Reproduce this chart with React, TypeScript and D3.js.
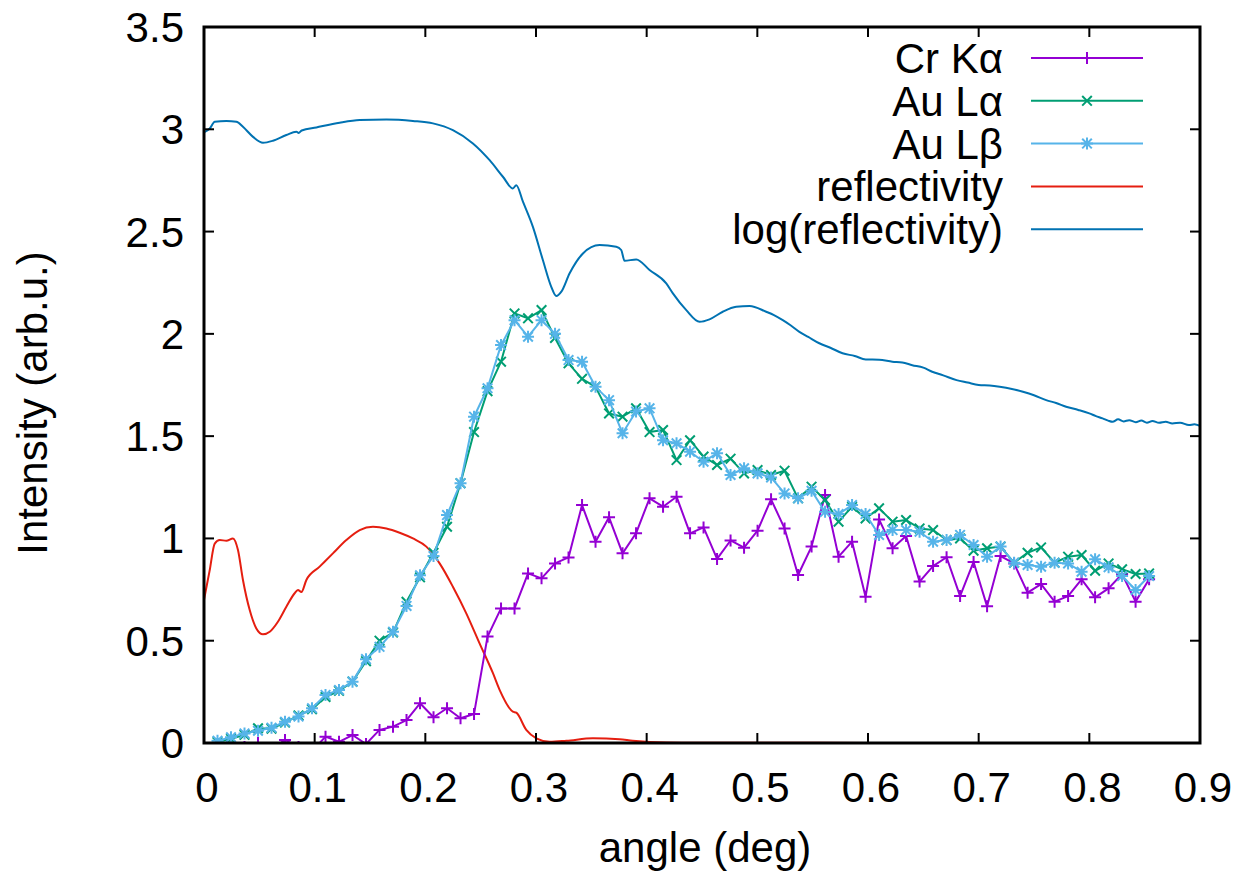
import React from "react";
import * as d3 from "d3";

// ---- data ----
const angles = [0.0122, 0.0244, 0.0366, 0.0488, 0.061, 0.0732, 0.0854, 0.0976, 0.1098, 0.122, 0.1342, 0.1464, 0.1586, 0.1708, 0.183, 0.1952, 0.2074, 0.2196, 0.2318, 0.244, 0.2562, 0.2684, 0.2806, 0.2928, 0.305, 0.3172, 0.3294, 0.3416, 0.3538, 0.366, 0.3782, 0.3904, 0.4026, 0.4148, 0.427, 0.4392, 0.4514, 0.4636, 0.4758, 0.488, 0.5002, 0.5124, 0.5246, 0.5368, 0.549, 0.5612, 0.5734, 0.5856, 0.5978, 0.61, 0.6222, 0.6344, 0.6466, 0.6588, 0.671, 0.6832, 0.6954, 0.7076, 0.7198, 0.732, 0.7442, 0.7564, 0.7686, 0.7808, 0.793, 0.8052, 0.8174, 0.8296, 0.8418, 0.854];

const crKa = [-0.03, -0.01, -0.02, 0.0, -0.03, 0.015, -0.02, -0.04, 0.031, 0.006, 0.039, -0.005, 0.064, 0.08, 0.112, 0.194, 0.126, 0.17, 0.121, 0.142, 0.52, 0.658, 0.658, 0.829, 0.805, 0.878, 0.907, 1.163, 0.984, 1.103, 0.927, 1.025, 1.196, 1.155, 1.204, 1.025, 1.054, 0.9, 0.99, 0.955, 1.038, 1.191, 1.049, 0.821, 0.96, 1.212, 0.911, 0.984, 0.715, 1.093, 0.952, 1.012, 0.789, 0.865, 0.908, 0.718, 0.885, 0.668, 0.914, 0.878, 0.735, 0.777, 0.691, 0.718, 0.8, 0.712, 0.756, 0.826, 0.691, 0.8];

const auLa = [0.005, 0.02, 0.04, 0.072, 0.07, 0.1, 0.135, 0.165, 0.225, 0.255, 0.3, 0.4, 0.5, 0.54, 0.69, 0.81, 0.93, 1.057, 1.27, 1.52, 1.72, 1.864, 2.1, 2.076, 2.116, 1.98, 1.856, 1.78, 1.741, 1.611, 1.595, 1.636, 1.52, 1.53, 1.383, 1.48, 1.4, 1.359, 1.39, 1.318, 1.334, 1.31, 1.331, 1.196, 1.253, 1.188, 1.082, 1.155, 1.098, 1.147, 1.082, 1.09, 1.049, 1.041, 0.992, 1.0, 0.94, 0.952, 0.96, 0.881, 0.93, 0.956, 0.881, 0.911, 0.919, 0.842, 0.878, 0.849, 0.826, 0.829];

const auLb = [0.011, 0.028, 0.047, 0.06, 0.075, 0.104, 0.129, 0.17, 0.235, 0.259, 0.3, 0.41, 0.47, 0.544, 0.67, 0.82, 0.914, 1.114, 1.27, 1.595, 1.734, 1.945, 2.067, 1.986, 2.067, 2.0, 1.872, 1.864, 1.741, 1.676, 1.514, 1.62, 1.636, 1.48, 1.465, 1.424, 1.375, 1.416, 1.31, 1.343, 1.318, 1.298, 1.22, 1.196, 1.233, 1.13, 1.119, 1.163, 1.119, 1.017, 1.041, 1.041, 1.033, 0.984, 0.992, 1.017, 0.968, 0.911, 0.96, 0.881, 0.87, 0.862, 0.881, 0.878, 0.837, 0.898, 0.859, 0.816, 0.748, 0.816];

const reflAngle = [0.0, 0.005, 0.0097, 0.0142, 0.0202, 0.0262, 0.0307, 0.0352, 0.0413, 0.0473, 0.0533, 0.0594, 0.0668, 0.0744, 0.0819, 0.0849, 0.088, 0.0925, 0.1045, 0.1165, 0.1286, 0.1407, 0.1527, 0.1648, 0.1768, 0.1888, 0.2009, 0.2129, 0.2249, 0.237, 0.249, 0.2611, 0.2671, 0.2791, 0.2822, 0.2912, 0.3003, 0.3123, 0.3274, 0.3514, 0.3755, 0.3873, 0.4177, 0.448, 0.5, 0.6, 0.7, 0.8, 0.9];
const refl = [0.7, 0.84, 0.975, 0.992, 0.989, 1.0, 0.943, 0.797, 0.65, 0.56, 0.531, 0.544, 0.593, 0.666, 0.732, 0.748, 0.738, 0.797, 0.862, 0.927, 0.992, 1.041, 1.057, 1.049, 1.028, 1.0, 0.96, 0.878, 0.764, 0.634, 0.487, 0.341, 0.26, 0.153, 0.148, 0.064, 0.023, 0.006, 0.011, 0.023, 0.018, 0.011, 0.002, 0.001, 0.001, 0.0005, 0.0003, 0.0002, 0.0001];

const logReflAngle = [0.0, 0.0052, 0.0097, 0.0202, 0.0293, 0.0352, 0.0443, 0.0533, 0.0623, 0.0744, 0.0835, 0.0855, 0.0883, 0.1015, 0.1226, 0.1407, 0.1648, 0.1888, 0.2069, 0.2249, 0.243, 0.2581, 0.2701, 0.2791, 0.2822, 0.2882, 0.2972, 0.3062, 0.3138, 0.3183, 0.3229, 0.3304, 0.3424, 0.3575, 0.3725, 0.377, 0.38, 0.3906, 0.4026, 0.4177, 0.4237, 0.4358, 0.4478, 0.4568, 0.4688, 0.4809, 0.493, 0.508, 0.515, 0.523, 0.53, 0.538, 0.546, 0.556, 0.566, 0.577, 0.588, 0.598, 0.61, 0.622, 0.631, 0.64, 0.65, 0.658, 0.668, 0.68, 0.69, 0.7, 0.71, 0.719, 0.729, 0.74, 0.75, 0.761, 0.77, 0.779, 0.79, 0.8, 0.806, 0.812, 0.817, 0.821, 0.826, 0.831, 0.836, 0.842, 0.847, 0.852, 0.857, 0.863, 0.869, 0.875, 0.882, 0.89, 0.895, 0.9];
const logRefl = [2.985, 3.004, 3.037, 3.04, 3.037, 3.012, 2.963, 2.934, 2.944, 2.972, 2.988, 2.982, 2.994, 3.009, 3.032, 3.045, 3.048, 3.041, 3.029, 2.996, 2.931, 2.849, 2.768, 2.711, 2.727, 2.646, 2.523, 2.361, 2.23, 2.185, 2.206, 2.296, 2.393, 2.434, 2.426, 2.41, 2.357, 2.364, 2.312, 2.247, 2.198, 2.116, 2.059, 2.071, 2.108, 2.132, 2.136, 2.108, 2.092, 2.067, 2.042, 2.01, 1.985, 1.954, 1.932, 1.905, 1.892, 1.875, 1.874, 1.864, 1.86, 1.847, 1.835, 1.815, 1.797, 1.774, 1.762, 1.75, 1.747, 1.741, 1.732, 1.717, 1.7, 1.676, 1.662, 1.644, 1.628, 1.611, 1.598, 1.587, 1.576, 1.57, 1.582, 1.572, 1.578, 1.568, 1.576, 1.566, 1.574, 1.565, 1.57, 1.562, 1.566, 1.554, 1.558, 1.55];

const xTicks = [0, 0.1, 0.2, 0.3, 0.4, 0.5, 0.6, 0.7, 0.8, 0.9];
const yTicks = [0, 0.5, 1, 1.5, 2, 2.5, 3, 3.5];
const seriesNames = ["Cr K\u03b1", "Au L\u03b1", "Au L\u03b2", "reflectivity", "log(reflectivity)"];
const seriesColors = ["#9400D3", "#009E73", "#56B4E9", "#E51E10", "#0072B2"];
const seriesMarkers = ["plus", "cross", "star", "none", "none"];

// ---- layout ----
const W = 1240, H = 872;
const L = 204, R = 1200, T = 27, B = 743;
const FONT = "'Liberation Sans', Arial, Helvetica, sans-serif";
const FS = 42;

function markerPath(kind: string, s: number) {
  const plus = `M${-s},0H${s}M0,${-s}V${s}`;
  const c = s * 0.8;
  const cross = `M${-c},${-c}L${c},${c}M${-c},${c}L${c},${-c}`;
  if (kind === "plus") return plus;
  if (kind === "cross") return cross;
  if (kind === "star") return plus + cross;
  return "";
}

export default function App() {
  const x = d3.scaleLinear().domain([0, 0.9]).range([L, R]);
  const y = d3.scaleLinear().domain([0, 3.5]).range([B, T]);
  const line = d3
    .line<[number, number]>()
    .x((d) => x(d[0]))
    .y((d) => y(d[1]));
  const smooth = d3
    .line<[number, number]>()
    .x((d) => x(d[0]))
    .y((d) => y(d[1]))
    .curve(d3.curveMonotoneX);

  const pts = [
    angles.map((a, i) => [a, crKa[i]] as [number, number]),
    angles.map((a, i) => [a, auLa[i]] as [number, number]),
    angles.map((a, i) => [a, auLb[i]] as [number, number]),
    reflAngle.map((a, i) => [a, refl[i]] as [number, number]),
    logReflAngle.map((a, i) => [a, logRefl[i]] as [number, number]),
  ];
  const drawOrder = [4, 3, 0, 1, 2];
  const legendY0 = 58;
  const legendDy = 42.8;

  return (
    <div style={{ position: "absolute", left: 0, top: 0 }}>
      <svg width={W} height={H} style={{ display: "block", background: "#fff" }} fontFamily={FONT}>
        <defs>
          <clipPath id="plotclip">
            <rect x={L} y={T} width={R - L} height={B - T} />
          </clipPath>
        </defs>
        {/* series */}
        <g clipPath="url(#plotclip)">
          {drawOrder.map((si) => (
            <g key={si}>
              <path
                d={(seriesMarkers[si] === "none" ? smooth(pts[si]) : line(pts[si])) || ""}
                fill="none"
                stroke={seriesColors[si]}
                strokeWidth={2}
                strokeLinejoin="round"
              />
              {seriesMarkers[si] !== "none" &&
                pts[si].map((p, j) => (
                  <path
                    key={j}
                    transform={`translate(${x(p[0])},${y(p[1])})`}
                    d={markerPath(seriesMarkers[si], 6)}
                    stroke={seriesColors[si]}
                    strokeWidth={2}
                    fill="none"
                  />
                ))}
            </g>
          ))}
        </g>
        {/* ticks */}
        <g stroke="#000" strokeWidth={2}>
          {xTicks.map((t) => (
            <g key={"xt" + t}>
              <line x1={x(t)} x2={x(t)} y1={B} y2={B - 10} />
              <line x1={x(t)} x2={x(t)} y1={T} y2={T + 10} />
            </g>
          ))}
          {yTicks.map((t) => (
            <g key={"yt" + t}>
              <line x1={L} x2={L + 10} y1={y(t)} y2={y(t)} />
              <line x1={R} x2={R - 10} y1={y(t)} y2={y(t)} />
            </g>
          ))}
        </g>
        <rect x={L} y={T} width={R - L} height={B - T} fill="none" stroke="#000" strokeWidth={3} />
        {/* tick labels */}
        <g fontSize={FS} fill="#000">
          {xTicks.map((t) => (
            <text key={"xl" + t} x={x(t) + 3} y={802} textAnchor="middle">
              {t === 0 ? "0" : d3.format(".1f")(t)}
            </text>
          ))}
          {yTicks.map((t) => (
            <text key={"yl" + t} x={184} y={y(t) + 15} textAnchor="end">
              {t === 0 ? "0" : t % 1 === 0 ? String(t) : d3.format(".1f")(t)}
            </text>
          ))}
          <text x={(L + R) / 2 + 3} y={862} textAnchor="middle">angle (deg)</text>
          <text transform={`translate(47,${(T + B) / 2 + 18}) rotate(-90)`} textAnchor="middle">
            Intensity (arb.u.)
          </text>
        </g>
        {/* legend */}
        <g fontSize={FS}>
          {seriesNames.map((n, i) => {
            const ly = legendY0 + i * legendDy;
            return (
              <g key={n}>
                <text x={1003} y={ly + 15} textAnchor="end" fill="#000">{n}</text>
                <line x1={1031} x2={1143} y1={ly} y2={ly} stroke={seriesColors[i]} strokeWidth={2} />
                {seriesMarkers[i] !== "none" && (
                  <path transform={`translate(1087,${ly})`} d={markerPath(seriesMarkers[i], 6)} stroke={seriesColors[i]} strokeWidth={2} fill="none" />
                )}
              </g>
            );
          })}
        </g>
      </svg>
    </div>
  );
}
